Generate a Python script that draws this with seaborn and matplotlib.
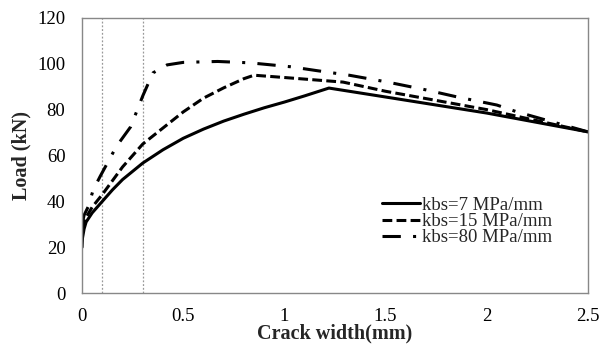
import numpy as np
import pandas as pd
import matplotlib
matplotlib.use("Agg")
import matplotlib.pyplot as plt
import seaborn as sns
from matplotlib.ticker import MultipleLocator

# Data
x7 = [0.0, 0.002, 0.01, 0.02, 0.05, 0.1, 0.15, 0.2, 0.3, 0.4, 0.5, 0.6, 0.7,
      0.8, 0.9, 1.0, 1.1, 1.22, 1.5, 2.0, 2.5]
y7 = [20, 24, 28, 31, 35, 40, 45, 49.5, 56.7, 62.5, 67.5, 71.5, 75,
      78, 80.8, 83.3, 86, 89.4, 85.5, 78.5, 70.3]

x15 = [0.0, 0.02, 0.05, 0.1, 0.2, 0.3, 0.4, 0.5, 0.6, 0.7, 0.8, 0.85,
       1.0, 1.29, 1.5, 2.0, 2.5]
y15 = [28, 33, 37.5, 43, 55, 65, 72, 79, 85, 89.5, 93.5, 95,
       94, 92, 88, 80, 70.3]

x80 = [0.0, 0.01, 0.03, 0.055, 0.09, 0.17, 0.24, 0.3, 0.35, 0.42, 0.5, 0.67, 0.83,
       1.03, 1.16, 1.32, 1.51, 1.7, 1.85, 2.05, 2.15, 2.5]
y80 = [30, 34, 37.6, 45, 51, 64, 72.5, 86, 96, 99.5, 100.6, 101, 100.4,
       98.7, 97, 95, 92, 88.6, 85.6, 82, 79, 70.3]

labels = ["kbs=7 MPa/mm", "kbs=15 MPa/mm", "kbs=80 MPa/mm"]
x_ticks = [0, 0.5, 1, 1.5, 2, 2.5]
x_ticklabels = ["0", "0.5", "1", "1.5", "2", "2.5"]
y_ticks = [0, 20, 40, 60, 80, 100, 120]
ref_lines = [0.1, 0.3]

df = pd.concat([
    pd.DataFrame({"x": x7, "y": y7, "s": labels[0]}),
    pd.DataFrame({"x": x15, "y": y15, "s": labels[1]}),
    pd.DataFrame({"x": x80, "y": y80, "s": labels[2]}),
])

sns.set_style("white")
plt.rcParams["font.family"] = ["Liberation Serif", "DejaVu Serif"]

fig, ax = plt.subplots(figsize=(6.08, 3.44), dpi=100)
fig.subplots_adjust(left=0.135, right=0.967, top=0.948, bottom=0.148)

for lab, ls in zip(labels, ["-", (0, (3.2, 1.4)), (0, (6, 4, 1, 4))]):
    sub = df[df["s"] == lab]
    sns.lineplot(data=sub, x="x", y="y", ax=ax, color="black", lw=2.2,
                 linestyle=ls, label=lab, sort=False)

for xv in ref_lines:
    ax.axvline(xv, color="#999999", lw=0.9, ls=(0, (1.5, 1.5)), zorder=0)

ax.set_xlim(0, 2.5)
ax.set_ylim(0, 120)
ax.set_xticks(x_ticks)
ax.set_xticklabels(x_ticklabels)
ax.set_yticks(y_ticks)
ax.xaxis.set_minor_locator(MultipleLocator(0.25))
ax.yaxis.set_minor_locator(MultipleLocator(10))
ax.tick_params(axis="both", which="both", direction="in", colors="#888888",
               labelcolor="black", labelsize=13.5, length=3, width=0.8)
ax.tick_params(axis="x", which="major", pad=11)
ax.tick_params(axis="y", which="major", pad=12)
for sp in ax.spines.values():
    sp.set_color("#888888")
    sp.set_linewidth(1.0)

ax.set_xlabel("Crack width(mm)", fontsize=14.5, fontweight="bold", labelpad=-1)
ax.set_ylabel("Load (kN)", fontsize=14.5, fontweight="bold", labelpad=4)

leg = ax.legend(loc="upper left", bbox_to_anchor=(0.593, 0.35), frameon=False,
                fontsize=13.5, handlelength=2.0, handletextpad=0.15,
                labelspacing=-0.05, borderaxespad=0, borderpad=0)

fig.savefig("out.png", dpi=100)
